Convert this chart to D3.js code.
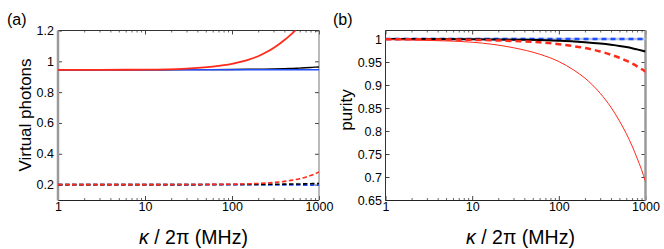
<!DOCTYPE html>
<html>
<head>
<meta charset="utf-8">
<script src="https://cdn.jsdelivr.net/npm/d3@7"></script>
<style>
  body { margin: 0; background: #fff; }
  svg { display: block; font-family: "Liberation Sans", Arial, sans-serif; }
</style>
</head>
<body>
<div id="chart"></div>
<script>
// two panels: virtual photons (a) and purity (b) vs kappa/2pi

var w = 664, h = 249;

// ---- data (a) ----
var kRedA   = [1, 3, 10, 30, 60, 100, 150, 200, 250, 300, 350, 400, 450, 500, 550, 600];
var redSolidA = [0.945, 0.945, 0.946, 0.953, 0.966, 0.984, 1.008, 1.033, 1.060, 1.087, 1.113, 1.138, 1.162, 1.185, 1.207, 1.228];

var kA = [1, 10, 30, 100, 200, 300, 400, 500, 600, 700, 800, 900, 1000];
var blackSolidA = [0.945, 0.945, 0.946, 0.947, 0.949, 0.950, 0.952, 0.954, 0.956, 0.958, 0.960, 0.962, 0.963];
var blueSolidA  = [0.945, 0.945, 0.945, 0.945, 0.945, 0.945, 0.945, 0.945, 0.945, 0.945, 0.945, 0.945, 0.945];
var redDashA    = [0.200, 0.200, 0.2005, 0.2026, 0.2073, 0.2135, 0.2207, 0.229, 0.2381, 0.248, 0.2587, 0.270, 0.282];
var blackDashA  = [0.200, 0.200, 0.200, 0.2007, 0.2014, 0.2021, 0.2028, 0.2035, 0.2042, 0.2049, 0.2056, 0.2063, 0.207];
var blueDashA   = [0.200, 0.200, 0.200, 0.1996, 0.1992, 0.1988, 0.1984, 0.198, 0.1976, 0.1972, 0.1968, 0.1964, 0.196];

// ---- data (b) ----
var kB = [1, 3, 10, 30, 60, 100, 150, 200, 300, 400, 500, 600, 700, 800, 900, 1000];
var redSolidB   = [0.9988, 0.997, 0.993, 0.981, 0.967, 0.951, 0.932, 0.915, 0.882, 0.8515, 0.822, 0.7945, 0.7676, 0.741, 0.716, 0.690];
var blackSolidB = [1.000, 1.000, 0.9995, 0.9986, 0.9976, 0.9962, 0.9947, 0.9931, 0.9902, 0.9875, 0.985, 0.9825, 0.980, 0.9775, 0.9752, 0.973];
var redDashB    = [0.9997, 0.9992, 0.9982, 0.9957, 0.993, 0.9887, 0.9843, 0.9804, 0.9729, 0.9659, 0.9592, 0.9528, 0.9466, 0.9406, 0.9347, 0.929];
var blueSolidB  = [1, 1, 1, 1, 1, 1, 1, 1, 1, 1, 1, 1, 1, 1, 1, 1];
var blueDashB   = [1, 1, 1, 1, 1, 1, 1, 1, 1, 1, 1, 1, 1, 1, 1, 1];

var xTicks = [1, 10, 100, 1000];
var yTicksA = [0.2, 0.4, 0.6, 0.8, 1, 1.2];
var yTicksB = [0.65, 0.7, 0.75, 0.8, 0.85, 0.9, 0.95, 1];

var RED = "#ff2a1a", BLUE = "#1f4dff";

var svg = d3.select("#chart").append("svg")
    .attr("width", w).attr("height", h);

function panel(opt) {
  var x = d3.scaleLog().domain([1, 1000]).range([opt.left, opt.right]);
  var y = d3.scaleLinear().domain(opt.ydom).range([200, 30.5]);
  var g = svg.append("g");

  var clipId = "clip" + opt.name;
  svg.append("clipPath").attr("id", clipId).append("rect")
    .attr("x", opt.left).attr("y", 30.5)
    .attr("width", opt.right - opt.left).attr("height", 169.5);

  // minor log ticks
  var minor = [];
  [1, 10, 100].forEach(function(d) {
    for (var i = 2; i < 10; i++) minor.push(d * i);
  });

  var bottom = d3.axisBottom(x).tickValues(xTicks).tickFormat(d3.format("d"))
      .tickSizeInner(-4).tickSizeOuter(0).tickPadding(2);
  var gb = g.append("g").attr("transform", "translate(0,200)").call(bottom);
  gb.select(".domain").remove();
  gb.selectAll("text").attr("font-size", 12.5).attr("fill", "#000")
    .attr("font-family", "Liberation Sans, Arial, sans-serif");
  gb.selectAll(".tick line").attr("stroke", "#444");

  var gbm = g.append("g").attr("transform", "translate(0,200)")
    .call(d3.axisBottom(x).tickValues(minor).tickFormat("").tickSizeInner(-2).tickSizeOuter(0));
  gbm.select(".domain").remove();
  gbm.selectAll(".tick line").attr("stroke", "#666");

  var gt = g.append("g").attr("transform", "translate(0,30.5)")
    .call(d3.axisTop(x).tickValues(xTicks).tickFormat("").tickSizeInner(-4).tickSizeOuter(0));
  gt.select(".domain").remove();
  gt.selectAll(".tick line").attr("stroke", "#444");
  var gtm = g.append("g").attr("transform", "translate(0,30.5)")
    .call(d3.axisTop(x).tickValues(minor).tickFormat("").tickSizeInner(-2).tickSizeOuter(0));
  gtm.select(".domain").remove();
  gtm.selectAll(".tick line").attr("stroke", "#666");

  var left = d3.axisLeft(y).tickValues(opt.yticks).tickFormat(opt.yfmt)
      .tickSizeInner(-4).tickSizeOuter(0).tickPadding(opt.ypad);
  var gl = g.append("g").attr("transform", "translate(" + opt.left + ",0)").call(left);
  gl.select(".domain").remove();
  gl.selectAll("text").attr("font-size", 12.5).attr("fill", "#000")
    .attr("font-family", "Liberation Sans, Arial, sans-serif");
  gl.selectAll(".tick line").attr("stroke", "#444");

  var gr = g.append("g").attr("transform", "translate(" + opt.right + ",0)")
    .call(d3.axisRight(y).tickValues(opt.yticks).tickFormat("").tickSizeInner(-4).tickSizeOuter(0));
  gr.select(".domain").remove();
  gr.selectAll(".tick line").attr("stroke", "#444");

  // frame
  g.append("line").attr("x1", opt.left).attr("x2", opt.right).attr("y1", 30.5).attr("y2", 30.5)
    .attr("stroke", "#333").attr("stroke-width", 1);
  g.append("line").attr("x1", opt.left).attr("x2", opt.right).attr("y1", 200.5).attr("y2", 200.5)
    .attr("stroke", "#222").attr("stroke-width", 1);
  g.append("line").attr("x1", opt.left).attr("x2", opt.left).attr("y1", 30.5).attr("y2", 200.5)
    .attr("stroke", opt.leftGray ? "#9a9a9a" : "#333").attr("stroke-width", opt.leftGray ? 2.5 : 1);
  g.append("line").attr("x1", opt.right).attr("x2", opt.right).attr("y1", 30.5).attr("y2", 200.5)
    .attr("stroke", opt.leftGray ? "#777" : "#9a9a9a").attr("stroke-width", opt.leftGray ? 1 : 2.5);

  var lines = g.append("g").attr("clip-path", "url(#" + clipId + ")");
  opt.series.forEach(function(s) {
    var pts = s.k.map(function(k, i) { return [k, s.v[i]]; });
    var line = d3.line()
      .x(function(d) { return x(d[0]); })
      .y(function(d) { return y(d[1]); })
      .curve(d3.curveMonotoneX);
    lines.append("path").datum(pts)
      .attr("d", line)
      .attr("fill", "none")
      .attr("stroke", s.color)
      .attr("stroke-width", s.width)
      .attr("stroke-dasharray", s.dash || null);
  });

  // labels
  var xl = svg.append("text")
    .attr("x", (opt.left + opt.right) / 2 + 5).attr("y", 244)
    .attr("text-anchor", "middle").attr("font-size", 19.5).attr("fill", "#000");
  xl.append("tspan").attr("font-style", "italic").text("κ");
  xl.append("tspan").text(" / 2π (MHz)");

  svg.append("text")
    .attr("transform", "translate(" + opt.ylabX + "," + opt.ylabY + ") rotate(-90)")
    .attr("text-anchor", "middle").attr("font-size", 17).attr("fill", "#000")
    .text(opt.ylab);

  svg.append("text").attr("x", opt.tagX).attr("y", 25)
    .attr("font-size", 16).attr("fill", "#000").text(opt.tag);
}

panel({
  name: "a", left: 58, right: 319, ydom: [0.1, 1.2], yticks: yTicksA,
  yfmt: function(d) { return d3.format("")(d); }, ypad: 4, leftGray: true,
  ylab: "Virtual photons", ylabX: 31, ylabY: 115, tag: "(a)", tagX: 7,
  series: [
    { k: kA, v: blackSolidA, color: "#000", width: 1.4 },
    { k: kA, v: blueSolidA, color: BLUE, width: 1.4 },
    { k: kRedA, v: redSolidA, color: RED, width: 1.8 },
    { k: kA, v: blueDashA, color: BLUE, width: 1.8, dash: "4.5,2.5" },
    { k: kA, v: blackDashA, color: "#000", width: 1.6, dash: "4.5,2.5" },
    { k: kA, v: redDashA, color: RED, width: 1.6, dash: "4.5,2.5" }
  ]
});

panel({
  name: "b", left: 385.5, right: 645.5, ydom: [0.65, 1.0185], yticks: yTicksB,
  yfmt: function(d) { return d3.format("")(d); }, ypad: 3.5, leftGray: false,
  ylab: "purity", ylabX: 352, ylabY: 110, tag: "(b)", tagX: 333,
  series: [
    { k: kB, v: blueSolidB, color: "#b8c4e8", width: 2.5 },
    { k: kB, v: blueDashB, color: BLUE, width: 2.5, dash: "5,4" },
    { k: kB, v: blackSolidB, color: "#000", width: 2 },
    { k: kB, v: redDashB, color: RED, width: 2.5, dash: "6,4" },
    { k: kB, v: redSolidB, color: RED, width: 1 }
  ]
});
</script>
</body>
</html>
